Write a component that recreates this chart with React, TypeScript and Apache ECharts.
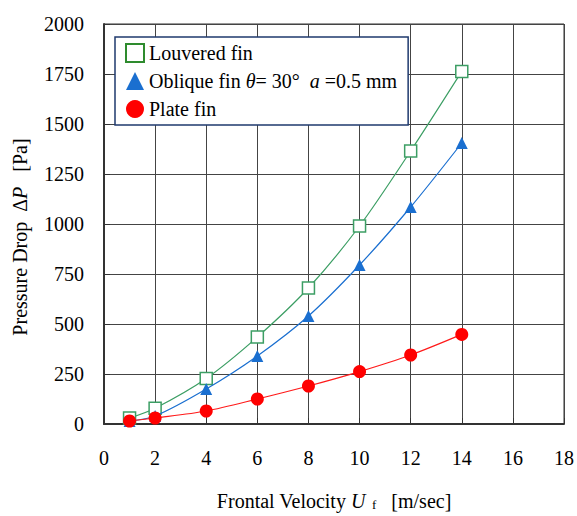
import React, { useEffect, useRef } from "react";
import * as echarts from "echarts";

const velocities = [1, 2, 4, 6, 8, 10, 12, 14];
const louvered = [30, 79, 228, 435, 680, 990, 1365, 1763];
const oblique = [15, 40, 175, 340, 540, 795, 1085, 1405];
const plate = [15, 30, 65, 125, 190, 262, 345, 448];
const seriesNames = ["Louvered fin", "Oblique fin θ= 30°  a =0.5 mm", "Plate fin"];

const serif = "Liberation Serif";

const pair = (ys: number[]) => velocities.map((x, i) => [x, ys[i]]);

export default function App() {
  const ref = useRef<HTMLDivElement>(null);
  useEffect(() => {
    if (!ref.current) return;
    const chart = echarts.init(ref.current, null, { renderer: "svg" });
    const legendRich = {
      n: { fontFamily: serif, fontSize: 20, color: "#000" },
      i: { fontFamily: serif, fontSize: 20, color: "#000", fontStyle: "italic" },
    };
    const nameRich = {
      n: { fontFamily: serif, fontSize: 20, color: "#000" },
      i: { fontFamily: serif, fontSize: 20, color: "#000", fontStyle: "italic" },
      s: { fontFamily: serif, fontSize: 13, color: "#000", padding: [7, 0, 0, 0] },
    };
    const tickRich = {
      t: { fontFamily: serif, fontSize: 20, color: "#000" },
    };
    chart.setOption({
      animation: false,
      backgroundColor: "#fff",
      textStyle: { fontFamily: serif },
      graphic: [
        {
          type: "text",
          x: 20,
          y: 237,
          rotation: Math.PI / 2,
          style: {
            text: "{n|Pressure Drop  Δ}{i|P}{n|   [Pa]}",
            rich: nameRich,
            align: "center",
            verticalAlign: "middle",
          },
        },
      ],
      grid: {
        left: 104,
        top: 24,
        width: 462,
        height: 404,
        show: true,
        borderColor: "#333",
        borderWidth: 1,
      },
      legend: {
        left: 115,
        top: 37,
        orient: "vertical",
        backgroundColor: "#fff",
        borderColor: "#1f3a6e",
        borderWidth: 1.5,
        borderRadius: 0,
        padding: [6, 11, 6, 10],
        itemGap: 8,
        itemWidth: 18,
        itemHeight: 18,
        data: [
          { name: seriesNames[0], icon: "rect", itemStyle: { color: "#fff", borderColor: "#2e8b2e", borderWidth: 2 } },
          { name: seriesNames[1], icon: "triangle", itemStyle: { color: "#1a6fd0", borderWidth: 0 } },
          { name: seriesNames[2], icon: "circle", itemStyle: { color: "#ff0000", borderWidth: 0 } },
        ],
        formatter: (name: string) => {
          if (name === seriesNames[1]) {
            return "{n|Oblique fin }{i|θ}{n|= 30°  }{i|a}{n| =0.5 mm}";
          }
          return "{n|" + name + "}";
        },
        textStyle: { fontFamily: serif, fontSize: 20, color: "#000", rich: legendRich },
      },
      xAxis: {
        type: "value",
        min: 0,
        max: 18,
        interval: 2,
        name: "{n|Frontal Velocity }{i|U}{s|  f}{n|   [m/sec]}",
        nameLocation: "middle",
        nameGap: 67,
        nameTextStyle: { rich: nameRich },
        axisLine: { lineStyle: { color: "#333", width: 2 } },
        axisTick: { inside: true, length: 6, lineStyle: { color: "#333" } },
        axisLabel: { margin: 24, formatter: (v: number) => "{t|" + v + "}", rich: tickRich },
        splitLine: { lineStyle: { color: "#444", width: 1 } },
      },
      yAxis: {
        type: "value",
        min: 0,
        max: 2000,
        interval: 250,
        axisLine: { show: true, lineStyle: { color: "#333", width: 2 } },
        axisTick: { show: true, inside: true, length: 6, lineStyle: { color: "#333" } },
        axisLabel: { margin: 20, formatter: (v: number) => "{t|" + v + "}", rich: tickRich },
        splitLine: { lineStyle: { color: "#444", width: 1 } },
      },
      series: [
        {
          name: seriesNames[0],
          type: "line",
          data: pair(louvered),
          smooth: 0.3,
          symbol: "rect",
          symbolSize: 12,
          lineStyle: { color: "#3c9e64", width: 1.2 },
          itemStyle: { color: "#fff", borderColor: "#3c9e64", borderWidth: 1.5 },
          z: 3,
        },
        {
          name: seriesNames[1],
          type: "line",
          data: pair(oblique),
          smooth: 0.3,
          symbol: "triangle",
          symbolSize: 12,
          lineStyle: { color: "#1a6fd0", width: 1.2 },
          itemStyle: { color: "#1a6fd0", borderWidth: 0 },
          z: 4,
        },
        {
          name: seriesNames[2],
          type: "line",
          data: pair(plate),
          smooth: 0.3,
          symbol: "circle",
          symbolSize: 13,
          lineStyle: { color: "#ff1a1a", width: 1.2 },
          itemStyle: { color: "#ff0000", borderWidth: 0 },
          z: 5,
        },
      ],
    });
    return () => chart.dispose();
  }, []);
  return <div ref={ref} style={{ position: "fixed", left: 0, top: 0, width: "100vw", height: "100vh" }} />;
}
